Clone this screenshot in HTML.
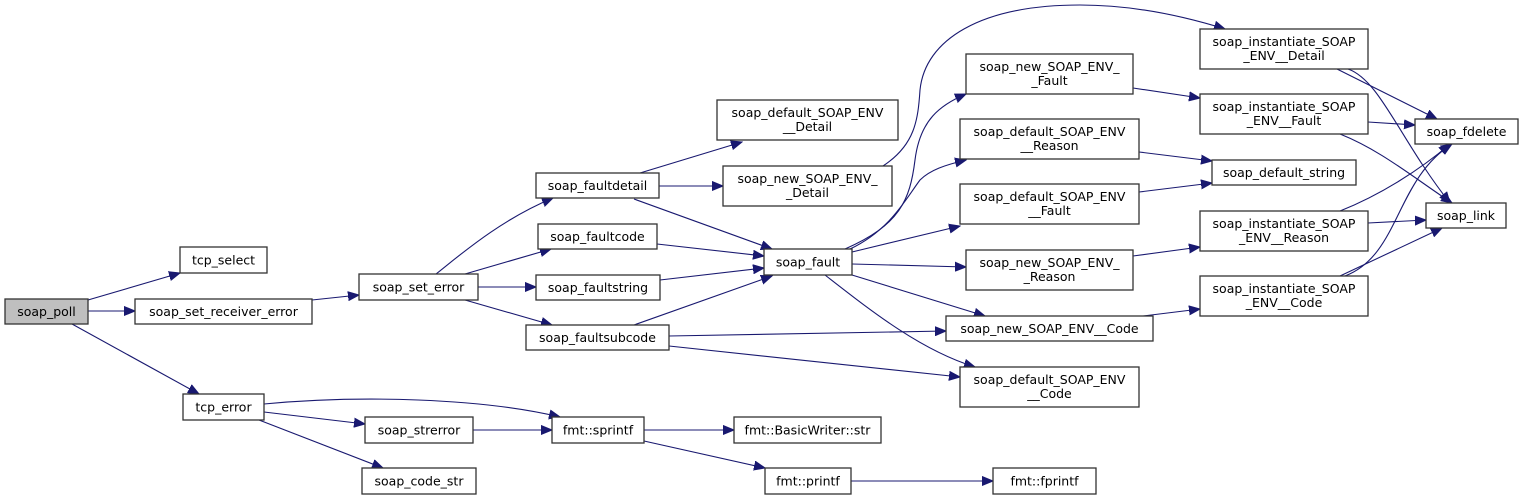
<!DOCTYPE html>
<html><head><meta charset="utf-8"><style>
html,body{margin:0;padding:0;background:#fff;}
svg{display:block;}
text{font-family:"DejaVu Sans","Liberation Sans",sans-serif;font-size:12.5px;fill:#000;text-anchor:middle;}
rect{fill:#fff;stroke:#333;stroke-width:1.3;}
path{fill:none;stroke:#191970;stroke-width:1.1;}
</style></head><body>
<svg width="1532" height="499" viewBox="0 0 1532 499" xmlns="http://www.w3.org/2000/svg">
<defs><marker id="a" markerUnits="userSpaceOnUse" markerWidth="12" markerHeight="10" refX="11" refY="5" orient="auto"><path d="M0,0.5 L11,5 L0,9.5 Z" style="fill:#191970;stroke:#191970;stroke-width:1"/></marker></defs>
<g marker-end="url(#a)">
<path d="M88,300 L180,273"/>
<path d="M88,311 L135,311"/>
<path d="M72,324 L199,394"/>
<path d="M312,300 L359,295"/>
<path d="M436,274 C460,255 500,220 553,198"/>
<path d="M465,274 L551,249"/>
<path d="M478,287 L536,287"/>
<path d="M465,300 L552,325"/>
<path d="M640,173 L742,142"/>
<path d="M659,186 L723,186"/>
<path d="M634,199 L772,249"/>
<path d="M657,244 L764,256"/>
<path d="M660,280 L764,268"/>
<path d="M634,325 L772,276"/>
<path d="M669,336 L946,331"/>
<path d="M669,346 L960,377"/>
<path d="M845,249 C900,225 910,200 915,160 C920,120 940,105 966,94"/>
<path d="M850,249 C890,230 905,200 920,180 C930,170 945,165 966,160"/>
<path d="M852,252 L960,226"/>
<path d="M852,264 L966,267"/>
<path d="M852,275 L985,316"/>
<path d="M825,275 C870,310 920,350 975,367"/>
<path d="M883,166 C915,145 918,120 920,90 C925,40 980,5 1080,5 C1130,5 1180,15 1225,29"/>
<path d="M1133,88 L1200,98"/>
<path d="M1139,152 L1212,161"/>
<path d="M1139,192 L1212,183"/>
<path d="M1133,256 L1200,247"/>
<path d="M1143,316 L1200,309"/>
<path d="M1337,69 L1437,119"/>
<path d="M1348,69 C1380,80 1400,140 1450,203"/>
<path d="M1368,122 L1415,125"/>
<path d="M1340,134 C1380,150 1410,175 1452,203"/>
<path d="M1340,211 C1380,195 1420,170 1450,144"/>
<path d="M1368,223 L1426,220"/>
<path d="M1345,276 C1400,255 1395,180 1452,144"/>
<path d="M1340,276 L1442,228"/>
<path d="M264,404 C360,395 480,398 560,417"/>
<path d="M264,412 L365,424"/>
<path d="M259,420 L383,468"/>
<path d="M473,430 L552,430"/>
<path d="M644,430 L734,430"/>
<path d="M644,441 L765,468"/>
<path d="M851,481 L993,481"/>
</g>
<rect x="5" y="299" width="83" height="25" style="fill:#bfbfbf"/><text x="46.5" y="316">soap_poll</text>
<rect x="180" y="247" width="87" height="26"/><text x="223.5" y="264.5">tcp_select</text>
<rect x="135" y="299" width="177" height="25"/><text x="223.5" y="316">soap_set_receiver_error</text>
<rect x="359" y="274" width="119" height="26"/><text x="418.5" y="291.5">soap_set_error</text>
<rect x="183" y="394" width="81" height="26"/><text x="223.5" y="411.5">tcp_error</text>
<rect x="365" y="417" width="108" height="26"/><text x="419" y="434.5">soap_strerror</text>
<rect x="362" y="468" width="114" height="26"/><text x="419" y="485.5">soap_code_str</text>
<rect x="717" y="100" width="181" height="40"/><text x="807.5" y="117">soap_default_SOAP_ENV</text><text x="807.5" y="131">__Detail</text>
<rect x="723" y="166" width="169" height="40"/><text x="807.5" y="183">soap_new_SOAP_ENV_</text><text x="807.5" y="197">_Detail</text>
<rect x="536" y="173" width="123" height="25"/><text x="597.5" y="190">soap_faultdetail</text>
<rect x="538" y="224" width="119" height="25"/><text x="597.5" y="241">soap_faultcode</text>
<rect x="536" y="275" width="124" height="25"/><text x="598" y="292">soap_faultstring</text>
<rect x="526" y="325" width="143" height="25"/><text x="597.5" y="342">soap_faultsubcode</text>
<rect x="764" y="249" width="88" height="26"/><text x="808" y="266.5">soap_fault</text>
<rect x="552" y="417" width="92" height="26"/><text x="598" y="434.5">fmt::sprintf</text>
<rect x="734" y="417" width="147" height="26"/><text x="807.5" y="434.5">fmt::BasicWriter::str</text>
<rect x="765" y="468" width="86" height="26"/><text x="808" y="485.5">fmt::printf</text>
<rect x="993" y="468" width="103" height="26"/><text x="1044.5" y="485.5">fmt::fprintf</text>
<rect x="966" y="54" width="167" height="40"/><text x="1049.5" y="71">soap_new_SOAP_ENV_</text><text x="1049.5" y="85">_Fault</text>
<rect x="960" y="119" width="179" height="40"/><text x="1049.5" y="136">soap_default_SOAP_ENV</text><text x="1049.5" y="150">__Reason</text>
<rect x="960" y="184" width="179" height="40"/><text x="1049.5" y="201">soap_default_SOAP_ENV</text><text x="1049.5" y="215">__Fault</text>
<rect x="966" y="250" width="167" height="40"/><text x="1049.5" y="267">soap_new_SOAP_ENV_</text><text x="1049.5" y="281">_Reason</text>
<rect x="946" y="316" width="207" height="25"/><text x="1049.5" y="333">soap_new_SOAP_ENV__Code</text>
<rect x="960" y="367" width="179" height="40"/><text x="1049.5" y="384">soap_default_SOAP_ENV</text><text x="1049.5" y="398">__Code</text>
<rect x="1200" y="29" width="168" height="40"/><text x="1284" y="46">soap_instantiate_SOAP</text><text x="1284" y="60">_ENV__Detail</text>
<rect x="1200" y="94" width="168" height="40"/><text x="1284" y="111">soap_instantiate_SOAP</text><text x="1284" y="125">_ENV__Fault</text>
<rect x="1212" y="160" width="144" height="25"/><text x="1284" y="177">soap_default_string</text>
<rect x="1200" y="211" width="168" height="40"/><text x="1284" y="228">soap_instantiate_SOAP</text><text x="1284" y="242">_ENV__Reason</text>
<rect x="1200" y="276" width="168" height="40"/><text x="1284" y="293">soap_instantiate_SOAP</text><text x="1284" y="307">_ENV__Code</text>
<rect x="1415" y="119" width="103" height="25"/><text x="1466.5" y="136">soap_fdelete</text>
<rect x="1426" y="203" width="80" height="25"/><text x="1466" y="220">soap_link</text>
</svg>
</body></html>
